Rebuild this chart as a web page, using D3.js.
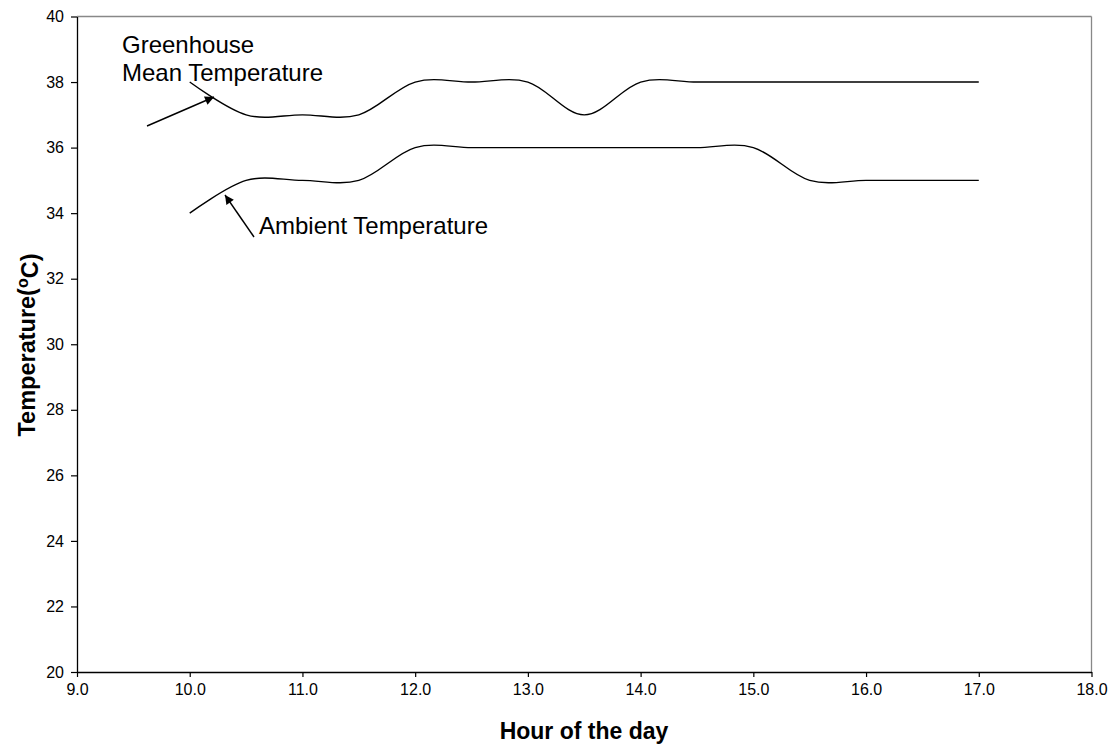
<!DOCTYPE html>
<html>
<head>
<meta charset="utf-8">
<script src="https://cdn.jsdelivr.net/npm/d3@7/dist/d3.min.js"></script>
<style>
  body { margin: 0; background: #fff; }
  svg { display: block; font-family: "Liberation Sans", Arial, sans-serif; }
</style>
</head>
<body>
<svg id="chart" width="1115" height="746"></svg>
<script>
// Data
const hours = [10.0, 10.5, 11.0, 11.5, 12.0, 12.5, 13.0, 13.5, 14.0, 14.5, 15.0, 15.5, 16.0, 16.5, 17.0];
const greenhouseTemp = [38, 37, 37, 37, 38, 38, 38, 37, 38, 38, 38, 38, 38, 38, 38];
const ambientTemp    = [34, 35, 35, 35, 36, 36, 36, 36, 36, 36, 36, 35, 35, 35, 35];
const xTicks = [9, 10, 11, 12, 13, 14, 15, 16, 17, 18];
const yTicks = [20, 22, 24, 26, 28, 30, 32, 34, 36, 38, 40];

const svg = d3.select("#chart");
const m = { left: 77, top: 16.5, right: 1091.5, bottom: 672 };

const x = d3.scaleLinear().domain([9, 18]).range([m.left, m.right]);
const y = d3.scaleLinear().domain([20, 40]).range([m.bottom, m.top]);

// frame (grey top/right)
svg.append("line").attr("x1", m.left).attr("x2", m.right).attr("y1", m.top).attr("y2", m.top)
  .attr("stroke", "#888").attr("stroke-width", 1.3);
svg.append("line").attr("x1", m.right).attr("x2", m.right).attr("y1", m.top).attr("y2", m.bottom)
  .attr("stroke", "#888").attr("stroke-width", 1.3);

// axes
const xAxis = d3.axisBottom(x).tickValues(xTicks).tickFormat(d3.format(".1f")).tickSizeInner(5).tickSizeOuter(0).tickPadding(16);
const yAxis = d3.axisLeft(y).tickValues(yTicks).tickFormat(d3.format("d")).tickSizeInner(6).tickSizeOuter(0).tickPadding(7);

const gx = svg.append("g").attr("transform", `translate(0,${m.bottom})`).call(xAxis);
const gy = svg.append("g").attr("transform", `translate(${m.left},0)`).call(yAxis);
[gx, gy].forEach(g => {
  g.select(".domain").attr("stroke", "#000").attr("stroke-width", 1.3);
  g.selectAll(".tick line").attr("stroke", "#000").attr("stroke-width", 1.2);
  g.selectAll(".tick text").attr("fill", "#000").style("font-size", "16px").style("font-family", "'Liberation Sans', Arial, sans-serif");
});
gx.selectAll(".tick text").attr("dy", "0.1em");

// lines
const line = d3.line().x((d, i) => x(hours[i])).y(d => y(d)).curve(d3.curveCardinal.tension(0));
svg.append("path").datum(greenhouseTemp).attr("d", line).attr("fill", "none").attr("stroke", "#000").attr("stroke-width", 1.4);
svg.append("path").datum(ambientTemp).attr("d", line).attr("fill", "none").attr("stroke", "#000").attr("stroke-width", 1.4);

// arrows
const defs = svg.append("defs");
defs.append("marker").attr("id", "arrow").attr("viewBox", "0 0 10 10").attr("refX", 10).attr("refY", 5)
  .attr("markerWidth", 11).attr("markerHeight", 9).attr("markerUnits", "userSpaceOnUse").attr("orient", "auto")
  .append("path").attr("d", "M0,0 L10,5 L0,10 Z").attr("fill", "#000");

svg.append("line").attr("x1", 147).attr("y1", 126).attr("x2", 214).attr("y2", 97)
  .attr("stroke", "#000").attr("stroke-width", 1.4).attr("marker-end", "url(#arrow)");
svg.append("line").attr("x1", 254).attr("y1", 237).attr("x2", 225).attr("y2", 195)
  .attr("stroke", "#000").attr("stroke-width", 1.4).attr("marker-end", "url(#arrow)");

// annotations
const ann = svg.append("g").style("font-size", "24px").attr("fill", "#000");
ann.append("text").attr("x", 122).attr("y", 53).text("Greenhouse");
ann.append("text").attr("x", 122).attr("y", 81).text("Mean Temperature");
ann.append("text").attr("x", 259).attr("y", 234).text("Ambient Temperature");

// axis titles
svg.append("text").attr("x", 584).attr("y", 739).attr("text-anchor", "middle")
  .style("font-size", "23px").style("font-weight", "bold").text("Hour of the day");

const yt = svg.append("text").attr("transform", `translate(35,345) rotate(-90)`)
  .attr("text-anchor", "middle").style("font-size", "23.5px").style("font-weight", "bold");
yt.append("tspan").text("Temperature(");
yt.append("tspan").attr("dy", "-0.45em").style("font-size", "16px").text("o");
yt.append("tspan").attr("dy", "0.45em").text("C)");
</script>
</body>
</html>
